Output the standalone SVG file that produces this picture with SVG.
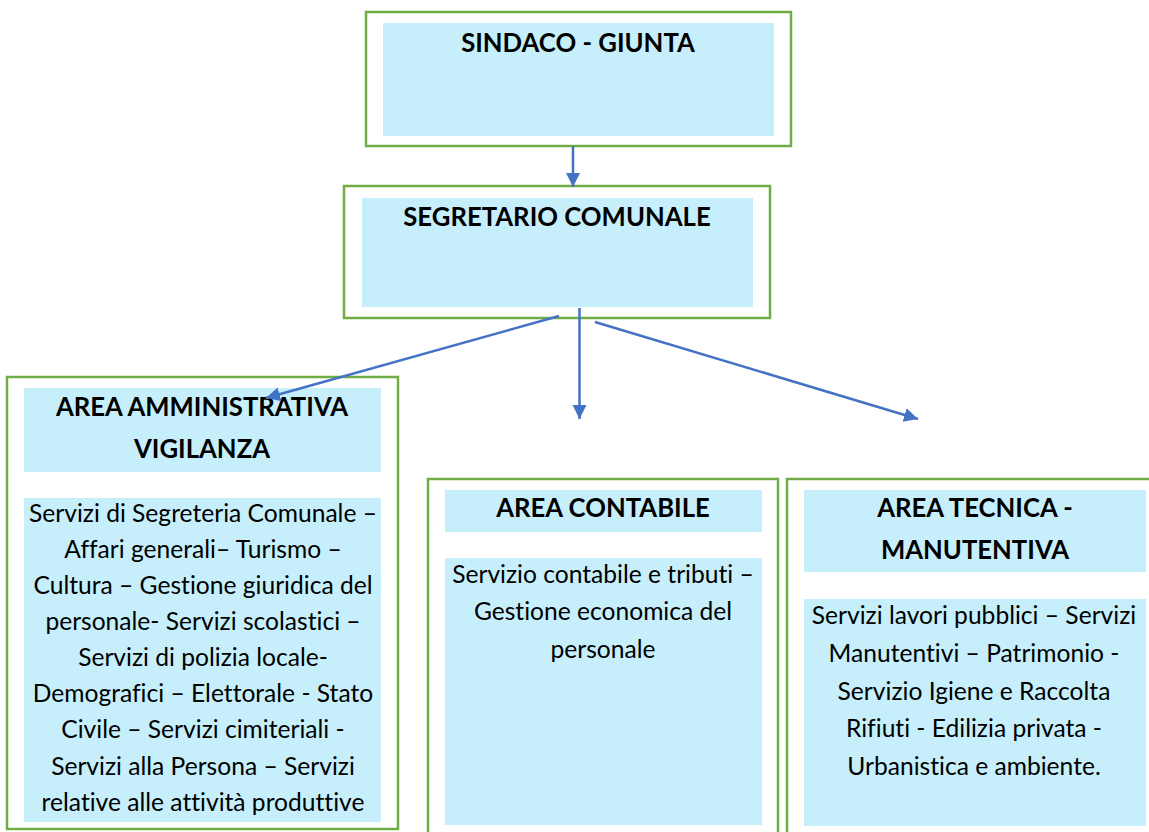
<svg xmlns="http://www.w3.org/2000/svg" width="1149" height="832" viewBox="0 0 1149 832">
<style>
.frame{fill:#FFFFFF;stroke:#70AD47;stroke-width:2.5}
.fill{fill:#C6EFFB}
.h{font-family:Lato,"Liberation Sans",sans-serif;font-weight:bold;font-size:25.7px;fill:#000;text-anchor:middle;font-variant-ligatures:none}
.b{font-family:Lato,"Liberation Sans",sans-serif;font-size:24.6px;fill:#000;text-anchor:middle;font-variant-ligatures:none}
.c{stroke:#4472C4;stroke-width:2.5;fill:none}
</style>
<defs>
<marker id="ah" markerUnits="userSpaceOnUse" markerWidth="16" markerHeight="16" refX="14" refY="7" orient="auto">
<path d="M0,0 L14,7 L0,14 Z" fill="#4472C4"/>
</marker>
</defs>
<rect width="1149" height="832" fill="#FFFFFF"/>
<g id="sindaco">
<rect class="frame" x="366" y="12" width="425" height="134"/>
<rect class="fill" x="383" y="23" width="391" height="113"/>
<text class="h" x="578" y="52">SINDACO - GIUNTA</text>
</g>
<g id="segretario">
<rect class="frame" x="344" y="186" width="426" height="132"/>
<rect class="fill" x="362" y="198" width="391" height="109"/>
<text class="h" x="557" y="226">SEGRETARIO COMUNALE</text>
</g>
<g id="area-amministrativa">
<rect class="frame" x="7" y="377" width="391" height="452"/>
<rect class="fill" x="24" y="388" width="357" height="84"/>
<text class="h" x="202" y="416">AREA AMMINISTRATIVA</text>
<text class="h" x="202" y="458">VIGILANZA</text>
<rect class="fill" x="24" y="498" width="357" height="324"/>
<text class="b" x="203" y="522">Servizi di Segreteria Comunale –</text>
<text class="b" x="203" y="558">Affari generali– Turismo –</text>
<text class="b" x="203" y="594">Cultura – Gestione giuridica del</text>
<text class="b" x="203" y="630">personale- Servizi scolastici –</text>
<text class="b" x="203" y="666">Servizi di polizia locale-</text>
<text class="b" x="203" y="702">Demografici – Elettorale - Stato</text>
<text class="b" x="203" y="738">Civile – Servizi cimiteriali -</text>
<text class="b" x="203" y="775">Servizi alla Persona – Servizi</text>
<text class="b" x="203" y="811">relative alle attività produttive</text>
</g>
<g id="area-contabile">
<rect class="frame" x="428" y="479" width="350" height="370"/>
<rect class="fill" x="445" y="490" width="317" height="42"/>
<text class="h" x="603" y="517">AREA CONTABILE</text>
<rect class="fill" x="445" y="558" width="317" height="267"/>
<text class="b" x="603" y="583">Servizio contabile e tributi –</text>
<text class="b" x="603" y="620">Gestione economica del</text>
<text class="b" x="603" y="658">personale</text>
</g>
<g id="area-tecnica">
<rect class="frame" x="787" y="479" width="380" height="370"/>
<rect class="fill" x="804" y="490" width="342" height="82"/>
<text class="h" x="975" y="517">AREA TECNICA -</text>
<text class="h" x="975" y="559">MANUTENTIVA</text>
<rect class="fill" x="804" y="599" width="342" height="227"/>
<text class="b" x="974" y="624">Servizi lavori pubblici – Servizi</text>
<text class="b" x="974" y="662">Manutentivi – Patrimonio -</text>
<text class="b" x="974" y="700">Servizio Igiene e Raccolta</text>
<text class="b" x="974" y="737">Rifiuti - Edilizia privata -</text>
<text class="b" x="974" y="775">Urbanistica e ambiente.</text>
</g>
<g id="connectors">
<line class="c" x1="573" y1="146" x2="573" y2="187" marker-end="url(#ah)"/>
<line class="c" x1="559" y1="316" x2="266" y2="398" marker-end="url(#ah)"/>
<line class="c" x1="579.5" y1="308" x2="579.5" y2="419" marker-end="url(#ah)"/>
<line class="c" x1="595" y1="322" x2="918" y2="419" marker-end="url(#ah)"/>
</g>
</svg>
